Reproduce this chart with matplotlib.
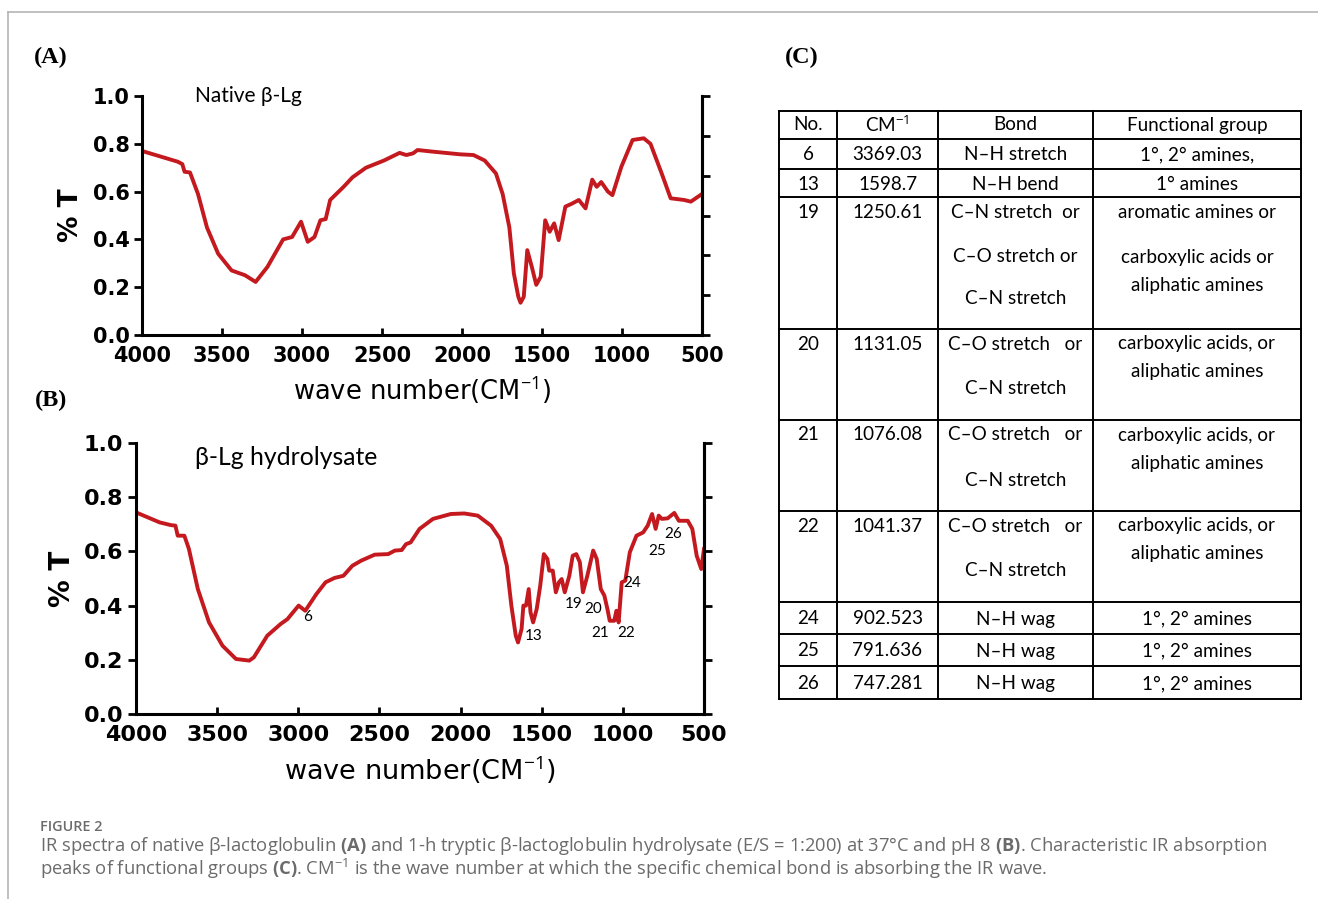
"""
IR spectra of native and hydrolysed beta-lactoglobulin, plus peak table.
"""

import matplotlib
matplotlib.use('Agg')
import matplotlib.pyplot as plt
import numpy as np

plt.rcParams['mathtext.fontset'] = 'custom'
plt.rcParams['mathtext.rm'] = 'Open Sans'
plt.rcParams['mathtext.bf'] = 'Open Sans:bold'

# Native beta-Lg spectrum (wave number, %T)
native_wn = [4000, 3776, 3748, 3734, 3700, 3650, 3594, 3524, 3440, 3356, 3290,
             3216, 3118, 3062, 3006, 2964, 2922, 2885, 2852, 2824, 2740, 2684,
             2600, 2488, 2390, 2348, 2306, 2278, 2180, 2012, 1928, 1858, 1788,
             1746, 1704, 1676, 1648, 1634, 1614, 1592, 1564, 1536, 1508, 1480,
             1452, 1424, 1396, 1354, 1312, 1270, 1228, 1186, 1158, 1130, 1088,
             1060, 1004, 934, 864, 822, 752, 696, 612, 570, 500]
native_t = [0.77, 0.725, 0.715, 0.683, 0.68, 0.59, 0.45, 0.34, 0.27, 0.25, 0.222,
            0.285, 0.40, 0.41, 0.474, 0.39, 0.41, 0.48, 0.485, 0.565, 0.62, 0.66,
            0.70, 0.73, 0.762, 0.753, 0.76, 0.774, 0.767, 0.756, 0.753, 0.73, 0.676,
            0.59, 0.45, 0.258, 0.16, 0.135, 0.16, 0.355, 0.286, 0.21, 0.244, 0.48,
            0.432, 0.467, 0.397, 0.537, 0.55, 0.565, 0.53, 0.65, 0.62, 0.64, 0.60,
            0.585, 0.704, 0.816, 0.823, 0.80, 0.676, 0.572, 0.565, 0.558, 0.59]

# Hydrolysate spectrum (wave number, %T)
hydro_wn = [4000, 3854, 3785, 3757, 3743, 3702, 3674, 3619, 3550, 3467, 3384,
            3302, 3274, 3191, 3109, 3067, 2998, 2957, 2888, 2832, 2777, 2722,
            2667, 2612, 2529, 2446, 2405, 2363, 2336, 2308, 2253, 2170, 2060,
            1977, 1894, 1812, 1756, 1715, 1687, 1660, 1646, 1624, 1613, 1597,
            1580, 1569, 1553, 1531, 1509, 1487, 1465, 1454, 1432, 1413, 1394,
            1377, 1358, 1330, 1309, 1287, 1265, 1246, 1219, 1183, 1161, 1136,
            1114, 1095, 1081, 1053, 1040, 1026, 1007, 985, 957, 916, 875, 847,
            820, 798, 779, 760, 724, 683, 655, 600, 572, 545, 517, 500]
hydro_t = [0.744, 0.707, 0.697, 0.695, 0.658, 0.658, 0.609, 0.461, 0.338, 0.252, 0.203,
           0.197, 0.209, 0.289, 0.332, 0.35, 0.40, 0.381, 0.443, 0.486, 0.502, 0.51,
           0.547, 0.566, 0.588, 0.59, 0.603, 0.605, 0.627, 0.633, 0.683, 0.72, 0.738,
           0.74, 0.732, 0.695, 0.646, 0.547, 0.40, 0.289, 0.264, 0.314, 0.40, 0.40,
           0.461, 0.375, 0.338, 0.387, 0.474, 0.59, 0.572, 0.529, 0.529, 0.449, 0.486,
           0.498, 0.449, 0.51, 0.584, 0.59, 0.56, 0.449, 0.51, 0.603, 0.572, 0.461,
           0.437, 0.387, 0.344, 0.344, 0.381, 0.338, 0.486, 0.492, 0.597, 0.658, 0.67, 0.695,
           0.738, 0.683, 0.732, 0.72, 0.722, 0.742, 0.713, 0.713, 0.683, 0.584, 0.535, 0.609]

# Peak numbers marked on the hydrolysate spectrum
peak_labels = ['6', '13', '19', '20', '21', '22', '24', '25', '26']
peak_wn = [2940, 1548, 1301, 1184, 1141, 980, 944, 790, 691]
peak_t = [0.358, 0.288, 0.406, 0.387, 0.299, 0.299, 0.483, 0.601, 0.664]

# Table (C)
headers = ['No.', 'CM$^{-1}$', 'Bond', 'Functional group']
peak_no = ['6', '13', '19', '20', '21', '22', '24', '25', '26']
peak_cm = ['3369.03', '1598.7', '1250.61', '1131.05', '1076.08', '1041.37',
           '902.523', '791.636', '747.281']
bonds = [['N–H stretch'], ['N–H bend'],
         ['C–N stretch  or', 'C–O stretch or', 'C–N stretch'],
         ['C–O stretch   or', 'C–N stretch'],
         ['C–O stretch   or', 'C–N stretch'],
         ['C–O stretch   or', 'C–N stretch'],
         ['N–H wag'], ['N–H wag'], ['N–H wag']]
groups = [['1°, 2° amines,'], ['1° amines'],
          ['aromatic amines or', 'carboxylic acids or', 'aliphatic amines'],
          ['carboxylic acids, or', 'aliphatic amines'],
          ['carboxylic acids, or', 'aliphatic amines'],
          ['carboxylic acids, or', 'aliphatic amines'],
          ['1°, 2° amines'], ['1°, 2° amines'], ['1°, 2° amines']]

W, H = 1318, 899
fig = plt.figure(figsize=(W / 100, H / 100), dpi=100)

line_color = '#c41a1f'


def spectrum_axes(rect, wn, t, title, title_pos, title_size, fs, lab_fs, right_ticks):
    ax = fig.add_axes(rect)
    ax.plot(wn, t, color=line_color, lw=2.8, solid_joinstyle='round')
    ax.set_xlim(4000, 500)
    ax.set_ylim(0, 1.0)
    ax.set_xticks(np.arange(4000, 499, -500))
    ax.set_yticks(np.arange(0, 1.01, 0.2))
    ax.set_yticklabels([f'{v:.1f}' for v in np.arange(0, 1.01, 0.2)])
    for s in ['left', 'bottom', 'right']:
        ax.spines[s].set_linewidth(2.2)
    ax.spines['top'].set_visible(False)
    ax.tick_params(axis='y', direction='out', length=6, width=2, pad=3,
                   labelsize=fs)
    ax.tick_params(axis='x', direction='in', length=5, width=2, pad=8,
                   labelsize=fs)
    for lab in ax.get_xticklabels() + ax.get_yticklabels():
        lab.set_fontweight('bold')
    ax.set_xlabel('wave number(CM$^{-1}$)', fontsize=lab_fs, labelpad=6)
    ax.set_ylabel('% T', fontsize=fs + 4, fontweight='bold', labelpad=6)
    ax.text(title_pos[0], title_pos[1], title, transform=ax.transAxes,
            fontsize=title_size, family='Lato', va='center', ha='left')
    ax2 = ax.twinx()
    ax2.set_ylim(0, 1)
    ax2.set_yticks(right_ticks)
    ax2.set_yticklabels([])
    ax2.tick_params(axis='y', direction='out', length=6, width=2)
    ax2.spines['right'].set_linewidth(2.2)
    for s in ['left', 'bottom', 'top']:
        ax2.spines[s].set_visible(False)
    return ax


ax_a = spectrum_axes([142 / W, 1 - 335 / H, 560 / W, 239 / H],
                     native_wn, native_t, 'Native β-Lg', (0.095, 1.0), 15, 15, 18.5,
                     np.linspace(0, 1, 7))
ax_b = spectrum_axes([136 / W, 1 - 714 / H, 568 / W, 271 / H],
                     hydro_wn, hydro_t, 'β-Lg hydrolysate', (0.104, 0.948), 17.8, 16, 19.5,
                     np.arange(0, 1.01, 0.2))

for lab, x, y in zip(peak_labels, peak_wn, peak_t):
    ax_b.text(x, y, lab, fontsize=11, family='Lato', ha='center', va='center')

# Overlay axes in pixel units for table, panel letters, caption and frame
ov = fig.add_axes([0, 0, 1, 1])
ov.set_xlim(0, W)
ov.set_ylim(H, 0)
ov.axis('off')
ov.patch.set_alpha(0)

ov.plot([8, W], [12, 12], color='#b5b5b5', lw=1.2)
ov.plot([8, 8], [12, H], color='#b5b5b5', lw=1.2)

for lab, x, y in [('(A)', 51, 57), ('(B)', 51, 400), ('(C)', 802, 57)]:
    ov.text(x, y, lab, family='Liberation Serif', fontweight='bold',
            fontsize=17.5, ha='center', va='center')

# Table grid
col_edges = [779, 837, 938, 1093, 1301]
row_edges = [111, 139, 169, 197, 329, 420, 511, 602, 634, 666, 699]
for x in col_edges:
    ov.plot([x, x], [row_edges[0], row_edges[-1]], color='black', lw=1.4)
for y in row_edges:
    ov.plot([col_edges[0], col_edges[-1]], [y, y], color='black', lw=1.4)

col_mid = [(a + b) / 2 for a, b in zip(col_edges[:-1], col_edges[1:])]
tfont = dict(family='Lato', fontsize=13.6, ha='center', va='center')
for txt, x in zip(headers, col_mid):
    ov.text(x, 125, txt, **tfont)

# vertical offsets of text lines inside multi-line rows
bond_offsets = [[0, 45, 87], [0, 45], [0, 45], [0, 45]]
group_offsets = [[0, 45, 73], [0, 28], [0, 28], [0, 28]]
multi = 0
for i in range(len(peak_no)):
    top, bot = row_edges[i + 1], row_edges[i + 2]
    if len(bonds[i]) == 1:
        y0 = (top + bot) / 2 + 1
        boff, goff = [0], [0]
    else:
        y0 = top + 15
        boff, goff = bond_offsets[multi], group_offsets[multi]
        multi += 1
    ov.text(col_mid[0], y0, peak_no[i], **tfont)
    ov.text(col_mid[1], y0, peak_cm[i], **tfont)
    for line, dy in zip(bonds[i], boff):
        ov.text(col_mid[2], y0 + dy, line, **tfont)
    for line, dy in zip(groups[i], goff):
        ov.text(col_mid[3], y0 + dy, line, **tfont)

# Caption
cap_color = '#6b6b6b'
ov.text(40, 827, 'FIGURE 2', family='Open Sans', fontweight='semibold',
        fontsize=10.4, color=cap_color, va='center')
ov.text(40, 846, r'IR spectra of native β-lactoglobulin $\mathbf{(A)}$ and 1-h tryptic '
        r'β-lactoglobulin hydrolysate (E/S = 1:200) at 37°C and pH 8 $\mathbf{(B)}$. '
        'Characteristic IR absorption',
        family='Open Sans', fontsize=13.2, color=cap_color, va='center')
ov.text(40, 869, r'peaks of functional groups $\mathbf{(C)}$. CM$^{-1}$ is the wave number '
        'at which the specific chemical bond is absorbing the IR wave.',
        family='Open Sans', fontsize=13.2, color=cap_color, va='center')

fig.savefig('out.png', dpi=100)
